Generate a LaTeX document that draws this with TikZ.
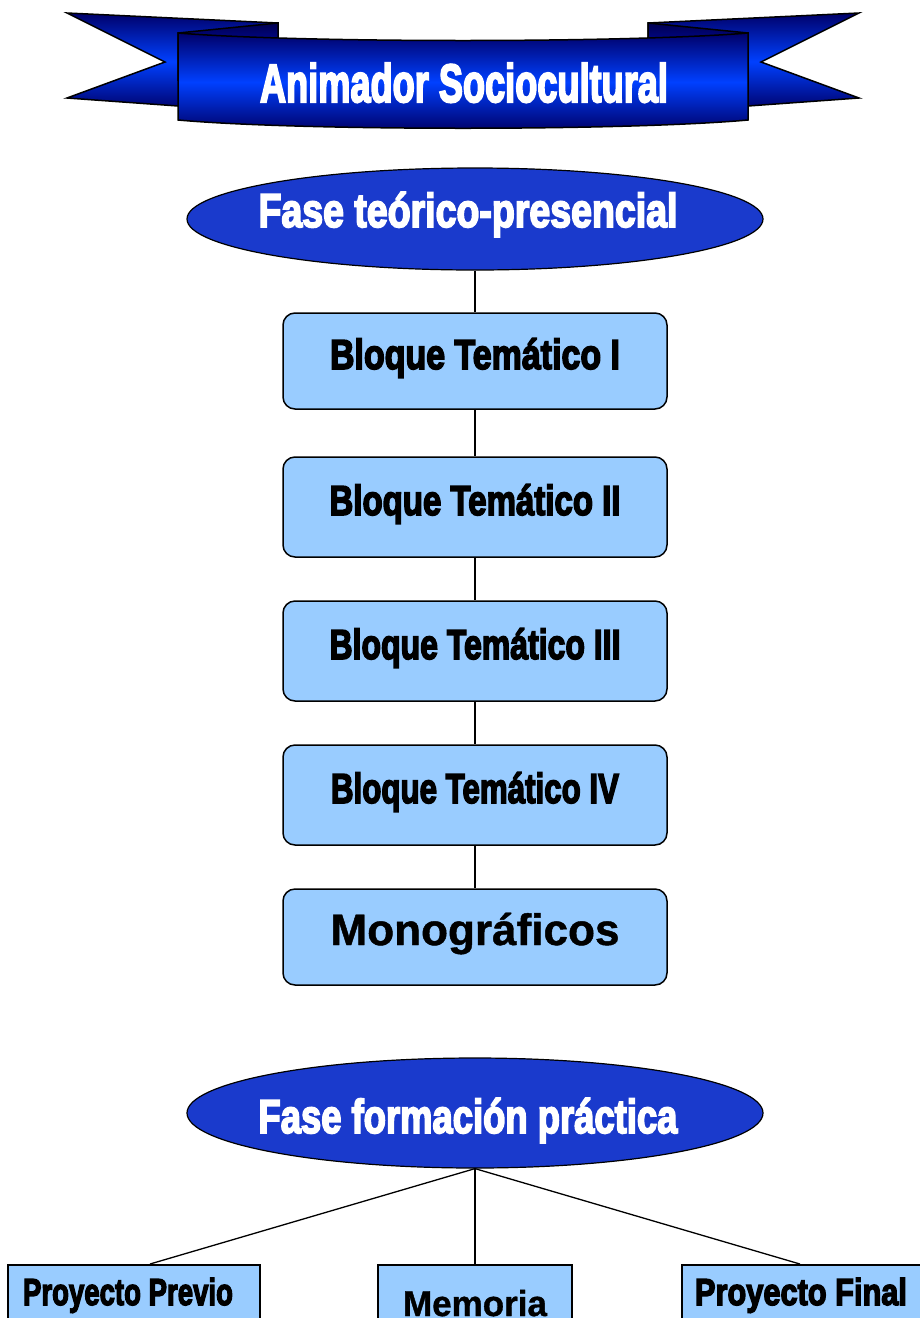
\documentclass[tikz,border=0pt]{standalone}
\usepackage{fontspec}
\setmainfont{Liberation Sans}
\newfontfamily\boldfont{Liberation Sans Bold}[FakeBold=1]
\newfontfamily\heavyfont{Liberation Sans Bold}[FakeBold=4]
\usetikzlibrary{calc,shapes.geometric}
\definecolor{ellblue}{RGB}{26,58,204}
\definecolor{boxblue}{RGB}{153,204,255}
\definecolor{rdark}{RGB}{0,0,105}
\definecolor{rbright}{RGB}{0,64,255}
\definecolor{rmid}{RGB}{0,10,170}
\definecolor{rfold}{RGB}{0,0,80}
\newcommand{\fitw}[3]{\makebox[0pt]{\resizebox{#1}{\height}{\fontsize{#2}{#2}\selectfont\heavyfont #3}}}
\newcommand{\fitn}[3]{\makebox[0pt]{\resizebox{#1}{\height}{\fontsize{#2}{#2}\selectfont\boldfont #3}}}
\begin{document}
\begin{tikzpicture}[x=1pt,y=-1pt,
  phase/.style={ellipse, draw=black, line width=1.2pt, fill=ellblue, text=white, inner sep=0pt, minimum width=576pt},
  blockbox/.style={rectangle, rounded corners=12pt, draw=black, line width=1.5pt, fill=boxblue, inner sep=0pt, minimum width=384pt, text height=24pt, text depth=8pt},
  taskbox/.style={rectangle, draw=black, line width=2pt, fill=boxblue, inner sep=0pt, minimum height=80pt},
  link/.style={draw=black, line width=1.3pt},
  ribbon/.style={top color=rdark, bottom color=rdark, middle color=rbright, draw=black, line width=1.5pt, line join=miter},
  foldpart/.style={top color=rfold, bottom color=rfold, middle color=rmid, draw=black, line width=1.5pt},
]
\clip (0,0) rectangle (920,1318);
\fill[white] (0,0) rectangle (920,1318);
% ribbon tails and folds
\foreach \sx/\sh in {1/0,-1/926}{
  \begin{scope}[shift={(\sh,0)}, xscale=\sx]
    \shade[ribbon] (67,13) -- (278,23) -- (278,110) -- (178,106) -- (67,98) -- (165,62) -- cycle;
    \shade[foldpart] (178,33) -- (278,23) -- (278,70) -- (178,80) -- cycle;
  \end{scope}
}
% main band
\shade[ribbon] (178,33) .. controls (300,43) and (626,43) .. (748,33) -- (748,120) .. controls (626,131) and (300,131) .. (178,120) -- cycle;
\node[text=white, anchor=base, inner sep=0pt] (title) at (464,102) {\fitw{408pt}{54}{Animador Sociocultural}};
% phase 1
\node[phase, minimum height=102pt, text height=24pt, text depth=8pt] (f1) at (475,219) {\makebox[0pt]{\hspace*{-14pt}\fitw{419pt}{47.5}{Fase teórico-presencial}}};
\node[blockbox, minimum height=96pt] (b1) at (475,361) {\fitw{290pt}{42}{Bloque Temático I}};
\node[blockbox, minimum height=100pt] (b2) at (475,507) {\fitw{291pt}{42}{Bloque Temático II}};
\node[blockbox, minimum height=100pt] (b3) at (475,651) {\fitw{291pt}{42}{Bloque Temático III}};
\node[blockbox, minimum height=100pt] (b4) at (475,795) {\fitw{288pt}{42}{Bloque Temático IV}};
\node[blockbox, minimum height=96pt] (b5) at (475,937) {\fitn{289pt}{44}{Monográficos}};
\draw[link] (f1.south) -- (b1.north);
\draw[link] (b1.south) -- (b2.north);
\draw[link] (b2.south) -- (b3.north);
\draw[link] (b3.south) -- (b4.north);
\draw[link] (b4.south) -- (b5.north);
% phase 2
\node[phase, minimum height=110pt, text height=40pt, text depth=0pt] (f2) at (475,1113) {\makebox[0pt]{\hspace*{-14pt}\fitw{419pt}{47.5}{Fase formación práctica}}};
\node[taskbox, minimum width=252pt, text height=10pt, text depth=10pt] (pp) at (134,1305) {\makebox[0pt]{\hspace*{-12pt}\fitw{210pt}{37.5}{Proyecto Previo}}};
\node[taskbox, minimum width=194pt, text height=22pt, text depth=0pt] (mem) at (475,1305) {\fitn{144pt}{36}{Memoria}};
\node[taskbox, minimum width=260pt, text height=10pt, text depth=10pt] (pf) at (812,1305) {\makebox[0pt]{\hspace*{-22pt}\fitw{212pt}{37.5}{Proyecto Final}}};
\draw[link] (f2.south) -- ($(pp.north west)!0.563!(pp.north east)$);
\draw[link] (f2.south) -- (mem.north);
\draw[link] (f2.south) -- ($(pf.north west)!0.454!(pf.north east)$);
\end{tikzpicture}
\end{document}
